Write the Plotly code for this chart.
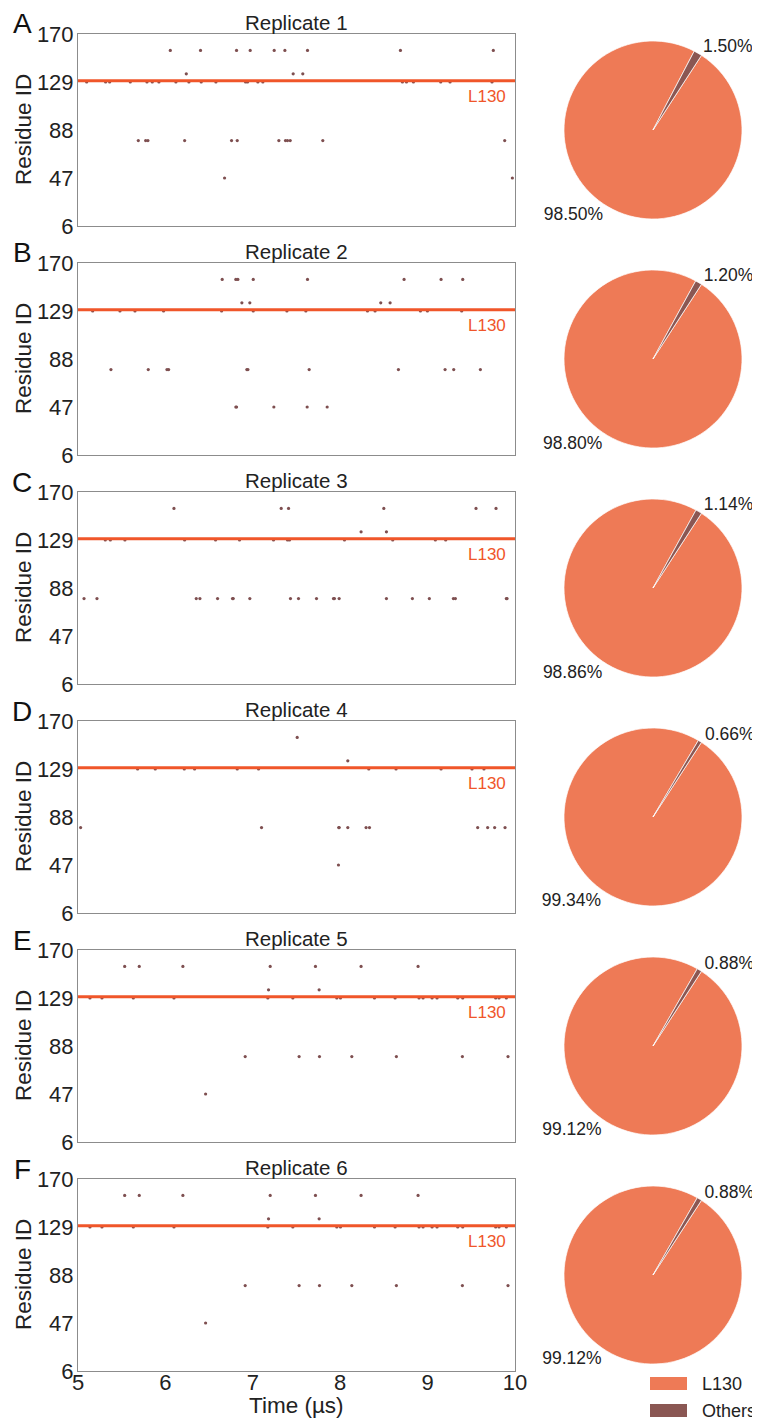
import plotly.graph_objects as go

# ---------------- data ----------------
replicates = ["Replicate 1", "Replicate 2", "Replicate 3", "Replicate 4", "Replicate 5", "Replicate 6"]
panel_letters = ["A", "B", "C", "D", "E", "F"]
pie_labels = ["L130", "Others"]
l130_pct = [98.50, 98.80, 98.86, 99.34, 99.12, 99.12]
others_pct = [1.50, 1.20, 1.14, 0.66, 0.88, 0.88]
y_ticks = [6, 47, 88, 129, 170]
x_ticks = [5, 6, 7, 8, 9, 10]
l130_residue = 130

# contact times (µs) per residue ID, per replicate
rep1 = {
    156: [6.056, 6.402, 6.814, 6.970, 7.245, 7.367, 7.626, 8.689, 9.752],
    136: [6.239, 7.462, 7.572],
    129: [5.099, 5.316, 5.362, 5.598, 5.789, 5.850, 5.926, 6.120, 6.269, 6.410, 6.578,
          6.917, 6.940, 7.058, 7.115, 8.712, 8.758, 8.838, 9.150, 9.257, 9.737],
    79: [5.690, 5.774, 5.800, 6.220, 6.757, 6.822, 7.298, 7.374, 7.397, 7.428, 7.801, 9.882],
    47: [6.677, 9.970],
}
rep2 = {
    156: [6.650, 6.806, 6.829, 7.005, 7.626, 8.731, 9.154, 9.402],
    136: [6.875, 6.966, 8.464, 8.571],
    129: [5.168, 5.480, 5.652, 5.979, 6.643, 7.005, 7.390, 7.607, 8.312, 8.399, 8.918, 8.998, 9.390],
    79: [5.377, 5.804, 6.018, 6.037, 6.932, 6.944, 7.645, 8.666, 9.200, 9.299, 9.604],
    47: [6.806, 6.814, 7.241, 7.622, 7.851],
}
rep3 = {
    156: [6.098, 7.325, 7.409, 8.499, 9.554, 9.783],
    136: [8.239, 8.529],
    129: [5.312, 5.370, 5.537, 6.220, 6.574, 6.848, 7.237, 7.397, 7.420, 8.049, 8.601, 9.089, 9.207],
    79: [5.069, 5.217, 6.353, 6.395, 6.597, 6.768, 6.776, 6.966, 7.431, 7.523, 7.729, 7.923,
         7.934, 7.988, 8.529, 8.826, 9.020, 9.295, 9.318, 9.901, 9.909],
    47: [],
}
rep4 = {
    156: [7.508],
    136: [8.087],
    129: [5.682, 5.884, 6.216, 6.334, 6.822, 7.066, 8.327, 8.639, 9.154, 9.508, 9.645],
    79: [5.030, 7.100, 7.984, 7.988, 8.087, 8.296, 8.335, 9.573, 9.687, 9.767, 9.886],
    47: [7.980],
}
rep5 = {
    156: [5.534, 5.701, 6.200, 7.199, 7.717, 8.239, 8.891],
    136: [7.180, 7.759],
    129: [5.137, 5.274, 5.633, 6.098, 7.172, 7.458, 7.961, 8.003, 8.392, 8.628, 8.902, 8.948,
          9.051, 9.108, 9.345, 9.402, 9.779, 9.817, 9.901],
    79: [6.913, 7.530, 7.763, 8.133, 8.643, 9.398, 9.920],
    47: [6.460],
}
rep6 = {
    156: [5.534, 5.701, 6.200, 7.199, 7.717, 8.239, 8.891],
    136: [7.180, 7.759],
    129: [5.137, 5.274, 5.633, 6.098, 7.172, 7.458, 7.961, 8.003, 8.392, 8.628, 8.902, 8.948,
          9.051, 9.108, 9.345, 9.402, 9.779, 9.817, 9.901],
    79: [6.913, 7.530, 7.763, 8.133, 8.643, 9.398, 9.920],
    47: [6.460],
}
contacts = [rep1, rep2, rep3, rep4, rep5, rep6]

# ---------------- style ----------------
OFF = 8                      # page body margin of the browser
W, H = 760 - OFF, 1420 - OFF
FONT = "Liberation Sans, Arial, sans-serif"
C_LINE = "#F0562A"
C_L130 = "#EE7A56"
C_OTH = "#8A5753"
C_DOT = "#7E4F50"
TXT = "#222222"


def px(x):
    return (x - OFF) / W


def py(y):
    return 1 - (y - OFF) / H


tops = [34, 263, 492, 721, 950, 1179]
ph = 192
x_left, x_right = 78, 515
pie_cx, pie_r = 653, 89

fig = go.Figure()
annotations = []
shapes = []

for i in range(6):
    top = tops[i]
    ydom = [py(top + ph), py(top)]
    sfx = "" if i == 0 else str(i + 1)
    xa, ya = "x" + sfx, "y" + sfx
    xs, ys = [], []
    for res, times in contacts[i].items():
        xs += times
        ys += [res] * len(times)
    fig.add_trace(go.Scatter(
        x=xs, y=ys, mode="markers", xaxis=xa, yaxis=ya,
        marker=dict(size=3.2, color=C_DOT, line=dict(width=0)),
        showlegend=False, hoverinfo="x+y"))
    axis_common = dict(showline=True, mirror=True, linecolor="#8c8c8c", linewidth=1,
                       showgrid=False, zeroline=False, ticks="", automargin=False,
                       tickfont=dict(family=FONT, size=22, color=TXT))
    fig.layout["xaxis" + sfx] = dict(
        domain=[px(x_left), px(x_right)], range=[5, 10], anchor=ya,
        tickvals=x_ticks, showticklabels=(i == 5), ticklabelstandoff=-8, **axis_common)
    fig.layout["yaxis" + sfx] = dict(
        domain=ydom, range=[6, 170], anchor=xa, tickvals=y_ticks,
        ticklabelstandoff=-1, **axis_common)

    # L130 reference line
    shapes.append(dict(type="line", xref=xa + " domain", yref=ya, x0=0, x1=1,
                       y0=l130_residue, y1=l130_residue,
                       line=dict(color=C_LINE, width=3), layer="above"))
    annotations.append(dict(text="L130", xref=xa + " domain", yref=ya, x=0.985,
                            y=l130_residue, xanchor="right", yanchor="middle", yshift=-16,
                            showarrow=False, font=dict(family=FONT, size=17, color=C_LINE)))
    # subplot title
    annotations.append(dict(text=replicates[i], xref="paper", yref="paper",
                            x=px((x_left + x_right) / 2), y=py(top - 12),
                            xanchor="center", yanchor="middle", showarrow=False,
                            font=dict(family=FONT, size=20.5, color=TXT)))
    # panel letter
    annotations.append(dict(text=panel_letters[i], xref="paper", yref="paper",
                            x=px(22), y=py(top - 10), xanchor="center", yanchor="middle",
                            showarrow=False, font=dict(family=FONT, size=28, color="#111111")))
    # y-axis title
    annotations.append(dict(text="Residue ID", xref="paper", yref="paper",
                            x=px(23), y=py(top + ph / 2), textangle=-90,
                            xanchor="center", yanchor="middle", showarrow=False,
                            font=dict(family=FONT, size=22.5, color=TXT)))

    # pie
    cy = top + ph / 2
    fig.add_trace(go.Pie(
        labels=pie_labels, values=[l130_pct[i], others_pct[i]],
        domain=dict(x=[px(pie_cx - pie_r), px(pie_cx + pie_r)],
                    y=[py(cy + 100), py(cy - 100)]),
        marker=dict(colors=[C_L130, C_OTH], line=dict(color="white", width=0.7)),
        sort=False, direction="clockwise", rotation=33,
        textposition="outside", texttemplate="%{percent:.2%}",
        textfont=dict(family=FONT, size=17.5, color=TXT), automargin=False,
        showlegend=False, hoverinfo="label+percent"))

# x-axis title
annotations.append(dict(text="Time (µs)", xref="paper", yref="paper",
                        x=px((x_left + x_right) / 2), y=py(1405),
                        xanchor="center", yanchor="middle", showarrow=False,
                        font=dict(family=FONT, size=22.5, color=TXT)))

# manual legend
leg_items = [(pie_labels[0], C_L130, 1377), (pie_labels[1], C_OTH, 1404)]
for name, col, yy in leg_items:
    shapes.append(dict(type="rect", xref="paper", yref="paper",
                       x0=px(650), x1=px(687), y0=py(yy + 13), y1=py(yy),
                       fillcolor=col, line=dict(width=0)))
    annotations.append(dict(text=name, xref="paper", yref="paper", x=px(700),
                            y=py(yy + 6.5), xanchor="left", yanchor="middle",
                            showarrow=False, font=dict(family=FONT, size=18, color=TXT)))

fig.update_layout(
    template="none",
    width=W, height=H, margin=dict(l=0, r=0, t=0, b=0, pad=0, autoexpand=False),
    paper_bgcolor="white", plot_bgcolor="white",
    font=dict(family=FONT, color=TXT),
    annotations=annotations, shapes=shapes, showlegend=False)

fig.write_html("out.html")
